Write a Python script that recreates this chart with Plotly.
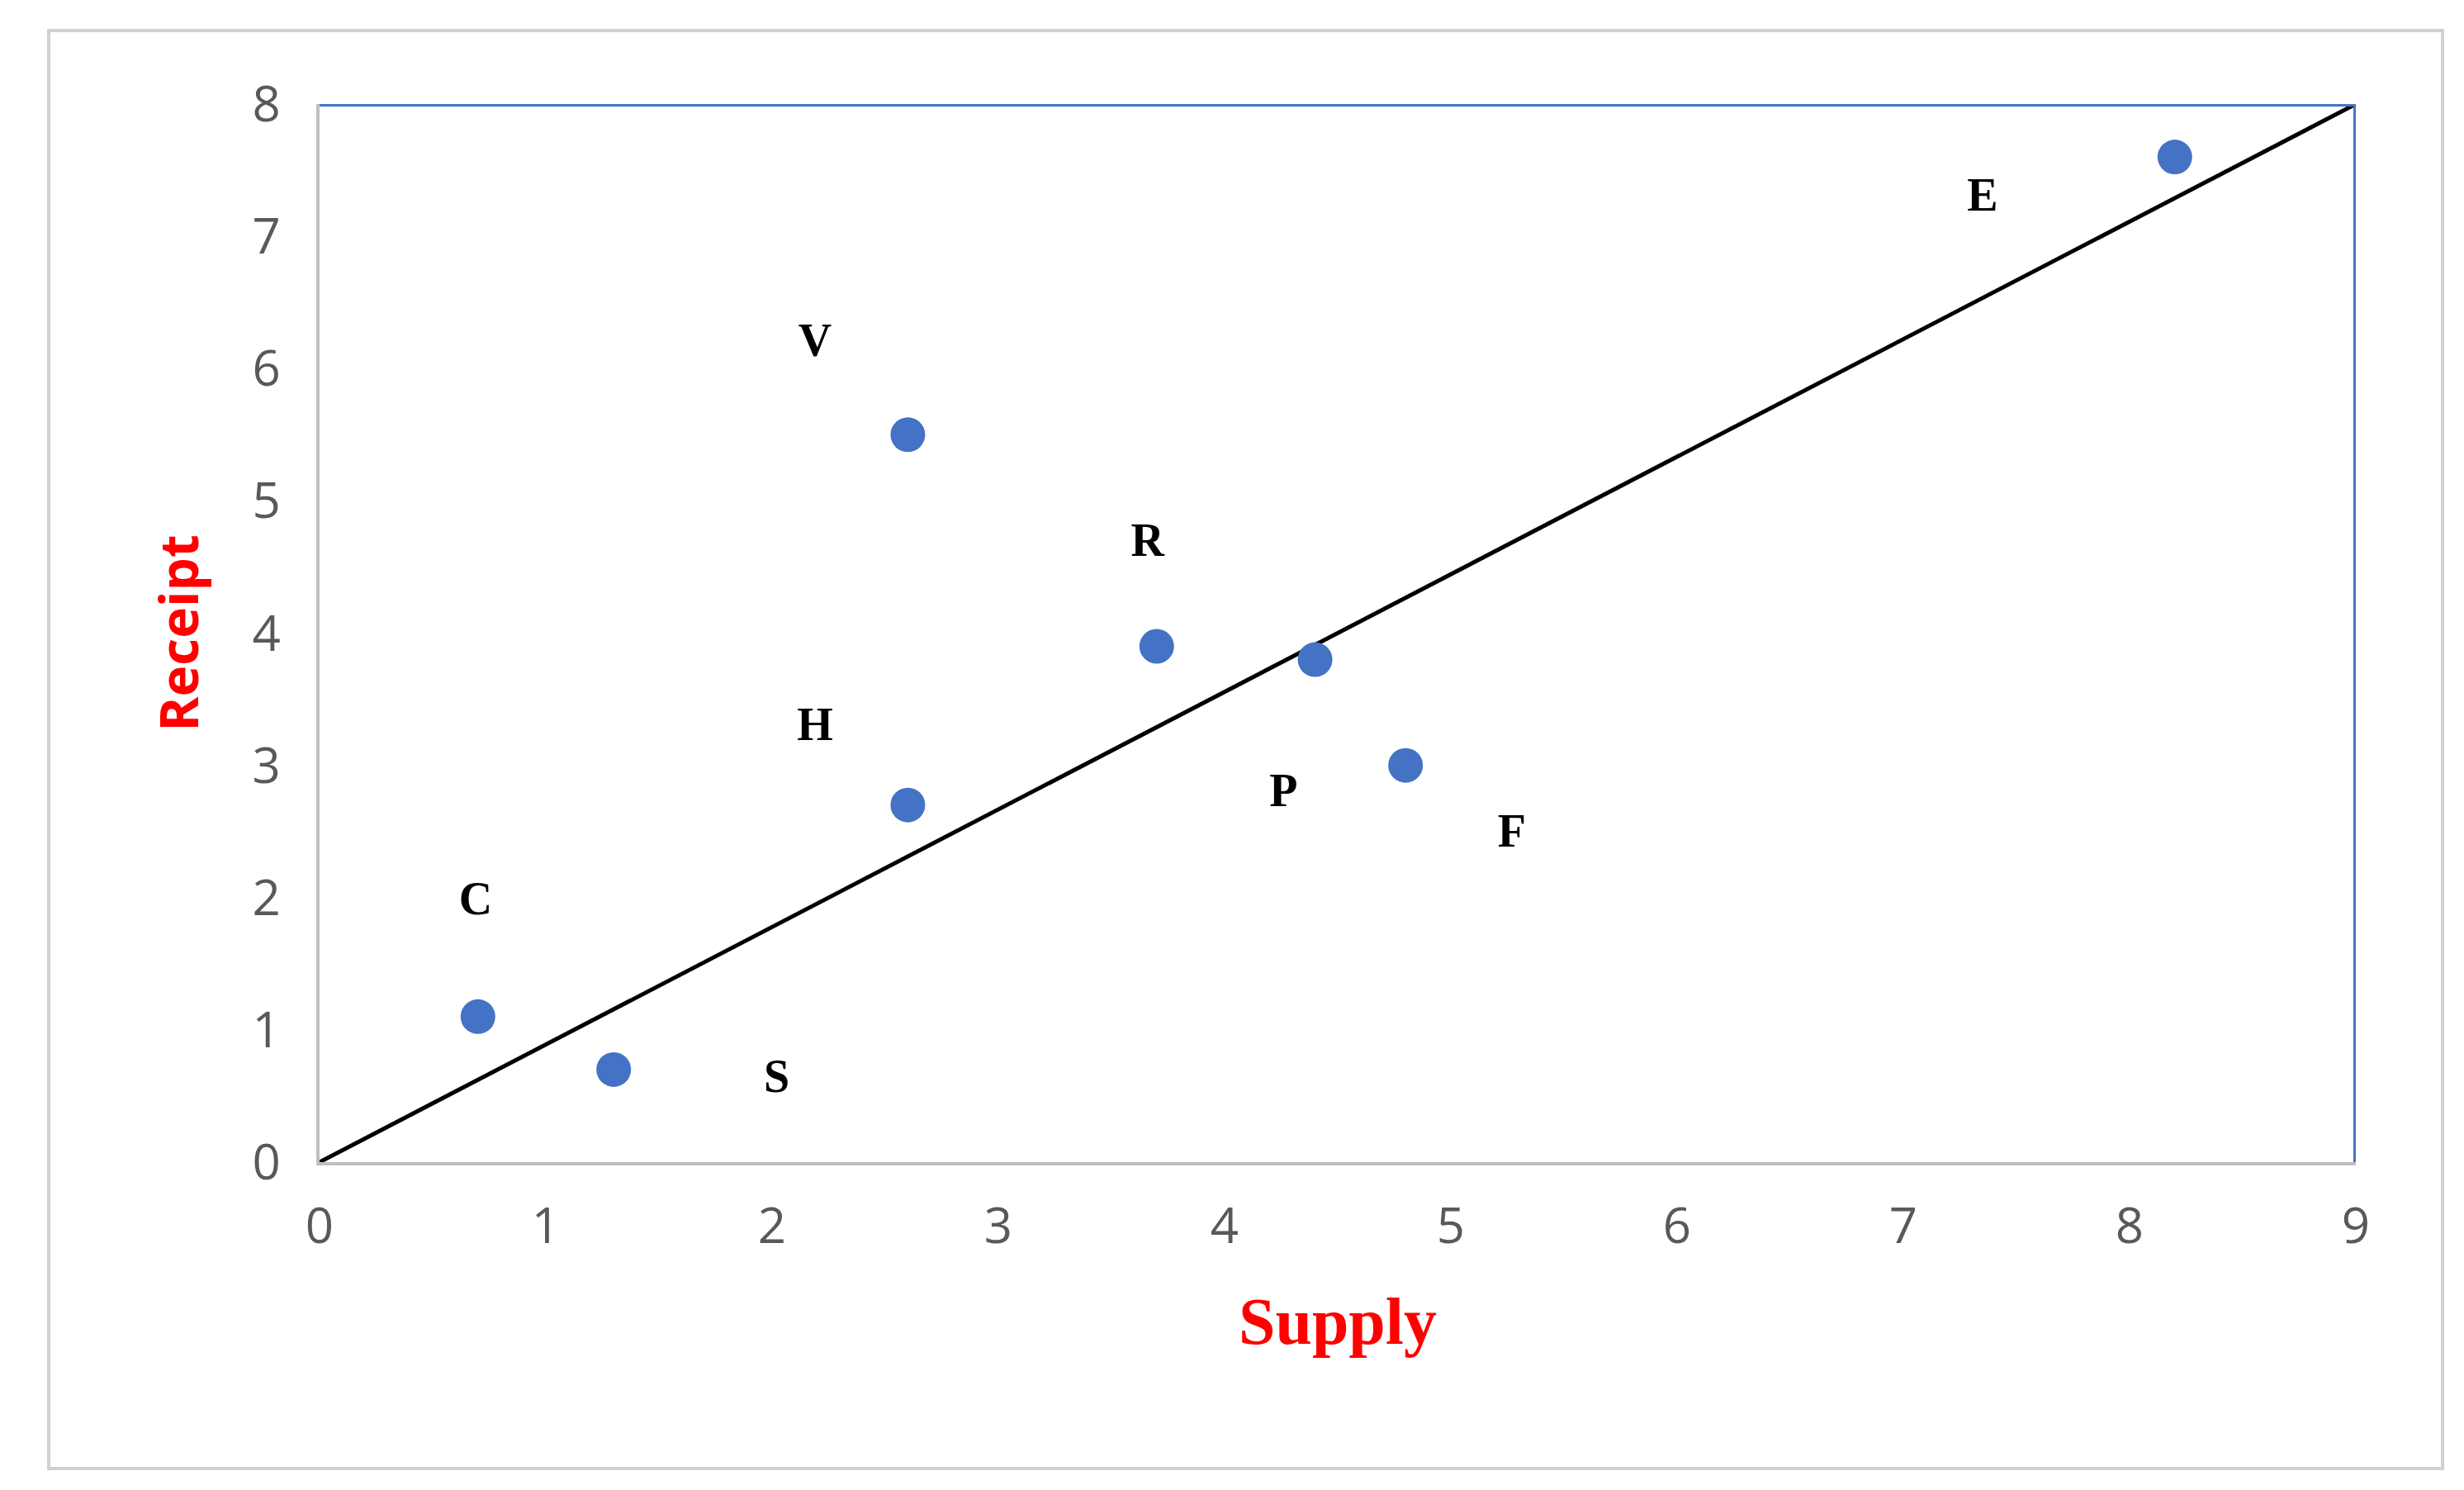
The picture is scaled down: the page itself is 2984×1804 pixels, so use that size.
import plotly.graph_objects as go

labels = ["C", "S", "H", "V", "R", "P", "F", "E"]
supply = [0.7, 1.3, 2.6, 2.6, 3.7, 4.4, 4.8, 8.2]
receipt = [1.1, 0.7, 2.7, 5.5, 3.9, 3.8, 3.0, 7.6]
label_x = [0.69, 2.02, 2.19, 2.19, 3.66, 4.26, 5.27, 7.35]
label_y = [1.96, 0.62, 3.28, 6.18, 4.67, 2.78, 2.47, 7.28]
line_x = [0, 9]
line_y = [0, 8]

fig = go.Figure()
fig.add_trace(go.Scatter(x=line_x, y=line_y, mode="lines",
                         line=dict(color="black", width=5), hoverinfo="skip"))
fig.add_trace(go.Scatter(x=supply, y=receipt, mode="markers",
                         marker=dict(color="#4472C4", size=42)))
fig.add_trace(go.Scatter(x=label_x, y=label_y, mode="text", text=labels,
                         textfont=dict(family="Liberation Serif", size=56, color="black"),
                         texttemplate="<b>%{text}</b>"))
fig.add_shape(type="line", x0=0, x1=9, y0=8, y1=8, line=dict(color="#4472C4", width=6))
fig.add_shape(type="line", x0=9, x1=9, y0=0, y1=8, line=dict(color="#4472C4", width=6))
fig.add_shape(type="rect", xref="paper", yref="paper", x0=-0.133, x1=1.0426,
              y0=-0.2896, y1=1.0695, line=dict(color="#D0D0D0", width=4))

axfont = dict(family="Open Sans", size=60, color="#595959")
fig.update_layout(
    width=2984, height=1804, showlegend=False,
    plot_bgcolor="white", paper_bgcolor="white",
    margin=dict(l=379, r=139, t=118, b=405),
    xaxis=dict(range=[0, 9], dtick=1, showgrid=False, zeroline=False,
               showline=True, linecolor="#BFBFBF", linewidth=4, tickfont=axfont,
               ticks="outside", ticklen=22, tickcolor="rgba(0,0,0,0)",
               title=dict(text="<b>Supply</b>", standoff=50,
                          font=dict(family="Liberation Serif", size=80, color="red"))),
    yaxis=dict(range=[0, 8], dtick=1, showgrid=False, zeroline=False,
               showline=True, linecolor="#BFBFBF", linewidth=4, tickfont=axfont,
               ticks="", ticksuffix="  ",
               title=dict(text="<b>Receipt</b>", standoff=45,
                          font=dict(family="Open Sans", size=64, color="red"))),
)
fig.write_html("out.html")
